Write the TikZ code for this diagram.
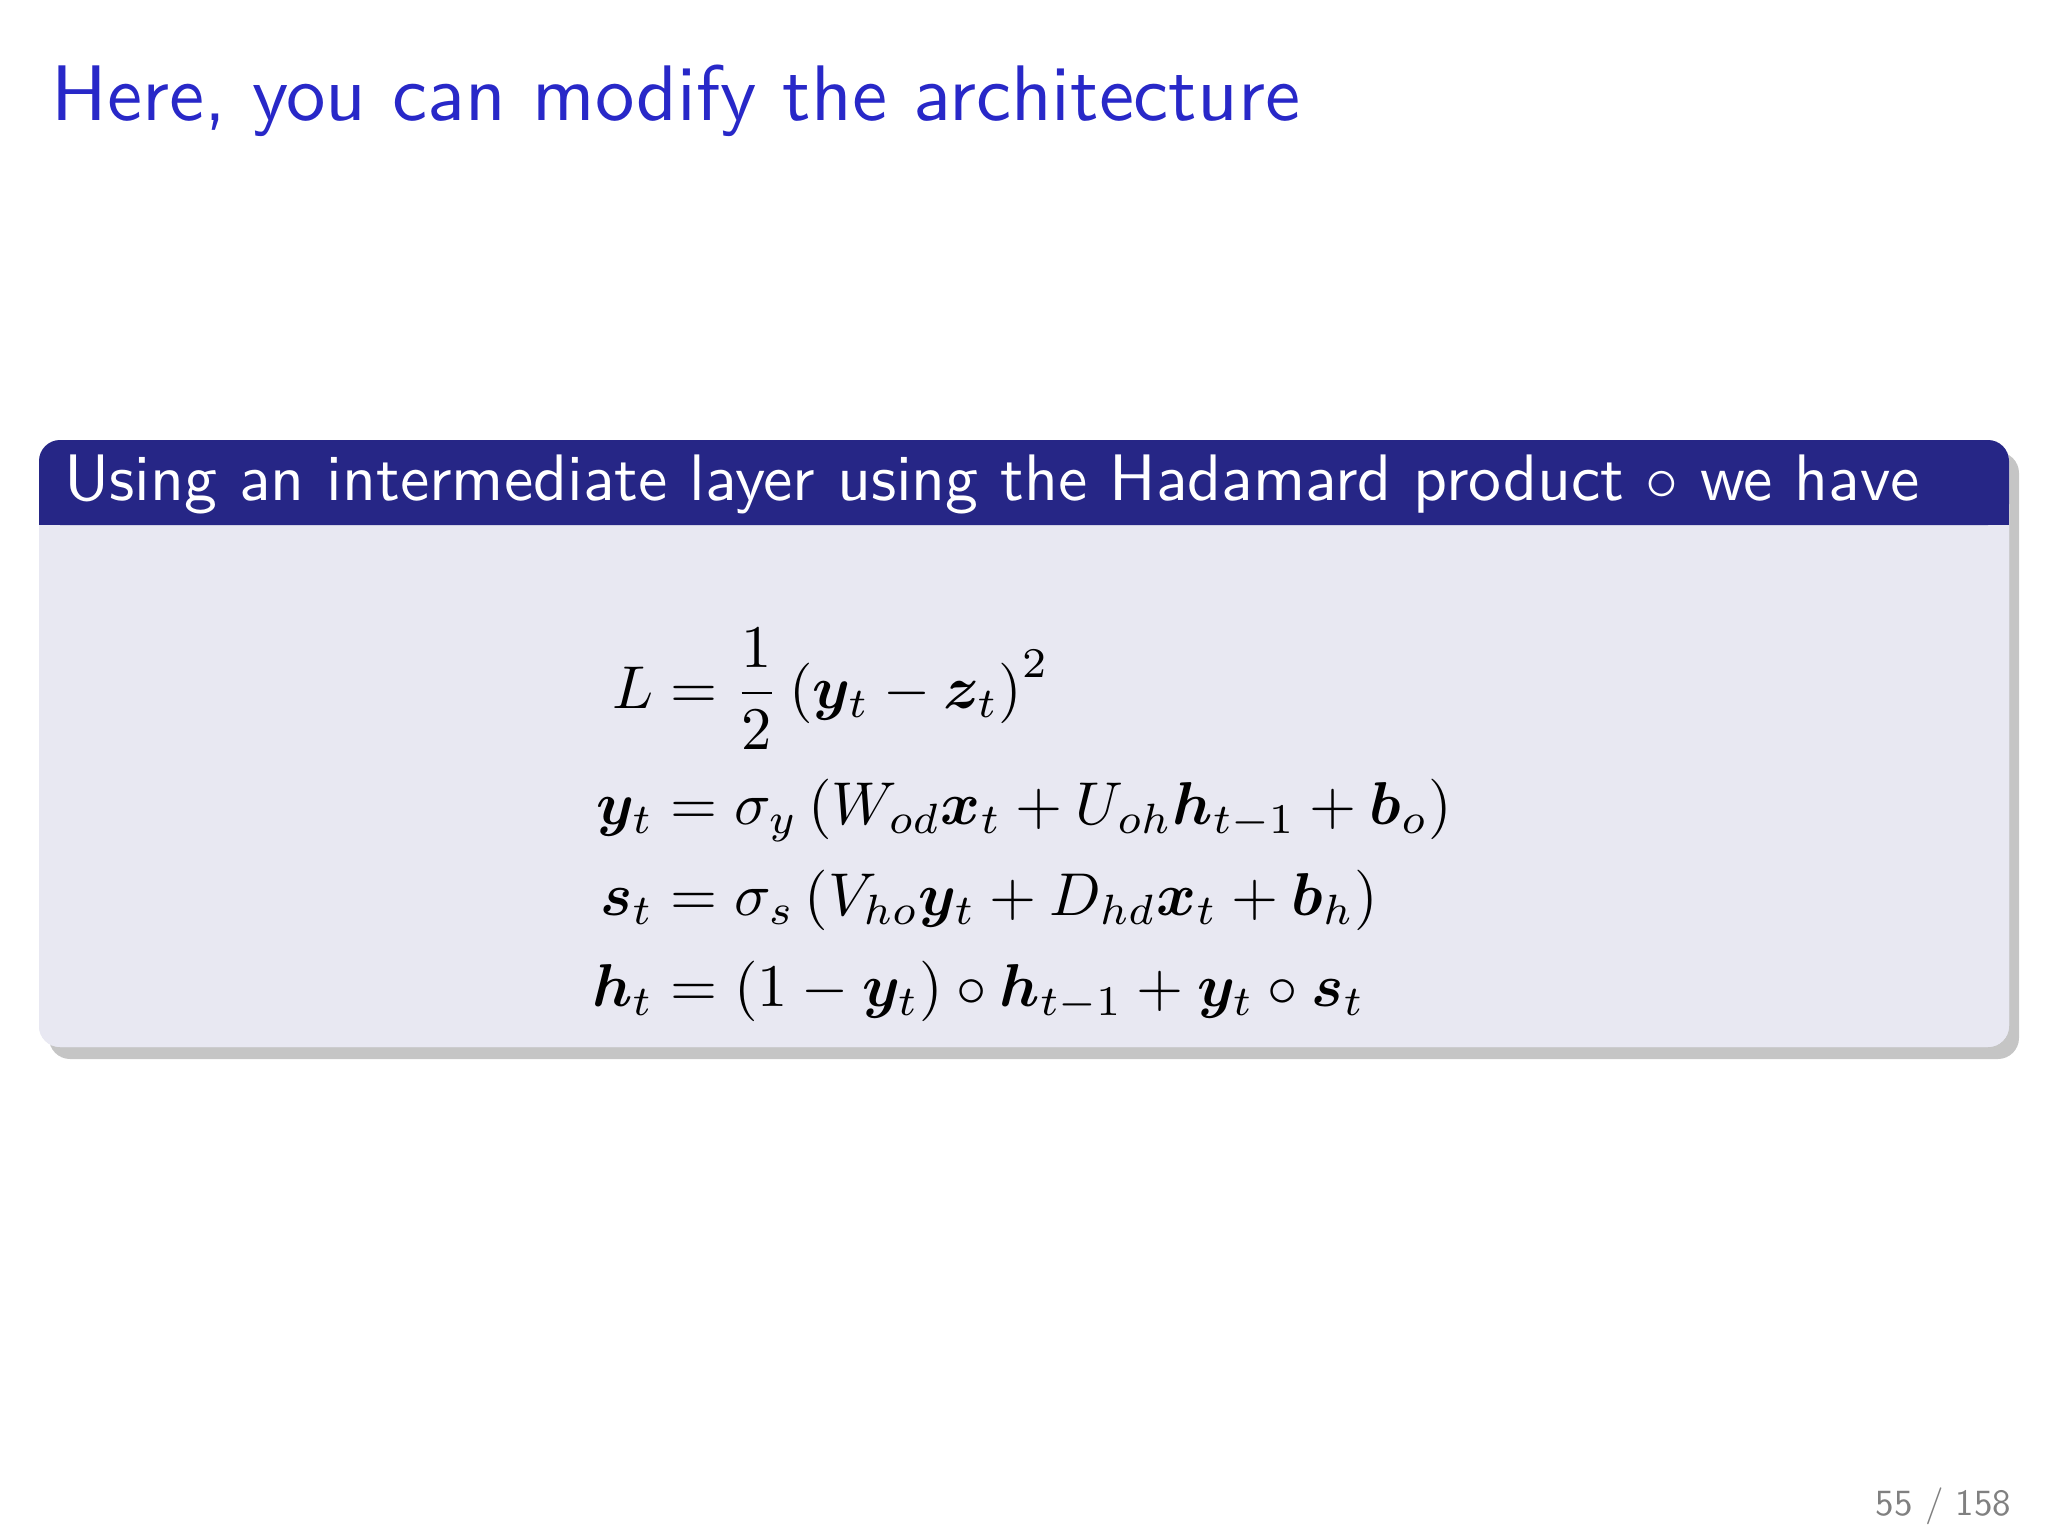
\documentclass[tikz,border=0pt]{standalone}
\usepackage{amsmath,bm}
\usetikzlibrary{shadows}
\definecolor{titleblue}{RGB}{40,40,200}
\definecolor{hdrblue}{RGB}{38,38,134}
\definecolor{bodygray}{RGB}{232,232,242}
\tikzset{x=0.01cm,y=-0.01cm}
\begin{document}
\begin{tikzpicture}
\useasboundingbox (0,0) rectangle (2048,1536);
\fill[white] (0,0) rectangle (2048,1536);
\node[anchor=base west,text=titleblue,scale=2.24,font=\sffamily,inner sep=0] (title) at (50,120) {Here, you can modify the architecture};
\fill[bodygray,rounded corners=6pt,drop shadow={shadow xshift=0.1cm,shadow yshift=-0.12cm,opacity=0.45}] (39,440) rectangle (2009,1047);
\fill[bodygray,rounded corners=6pt] (39,440) rectangle (2009,1047);
\fill[hdrblue,rounded corners=6pt] (39,440) rectangle (2009,525);
\fill[hdrblue] (39,480) rectangle (2009,525);
\node[anchor=base west,text=white,scale=1.87,font=\sffamily,inner sep=0] (hdr) at (63,500) {Using an intermediate layer using the Hadamard product $\circ$ we have};
\node[scale=1.72,inner sep=0] (eqs) at (1022,828) {$\displaystyle\begin{aligned}
L &= \frac{1}{2}\left(\bm{y}_t-\bm{z}_t\right)^2\\
\bm{y}_t &= \sigma_y\left(W_{od}\bm{x}_t+U_{oh}\bm{h}_{t-1}+\bm{b}_o\right)\\
\bm{s}_t &= \sigma_s\left(V_{ho}\bm{y}_t+D_{hd}\bm{x}_t+\bm{b}_h\right)\\
\bm{h}_t &= \left(1-\bm{y}_t\right)\circ\bm{h}_{t-1}+\bm{y}_t\circ\bm{s}_t
\end{aligned}$};
\node[anchor=base east,text=gray,scale=1.05,font=\sffamily,inner sep=0] (pg) at (2012,1515) {55 / 158};
\end{tikzpicture}
\end{document}
